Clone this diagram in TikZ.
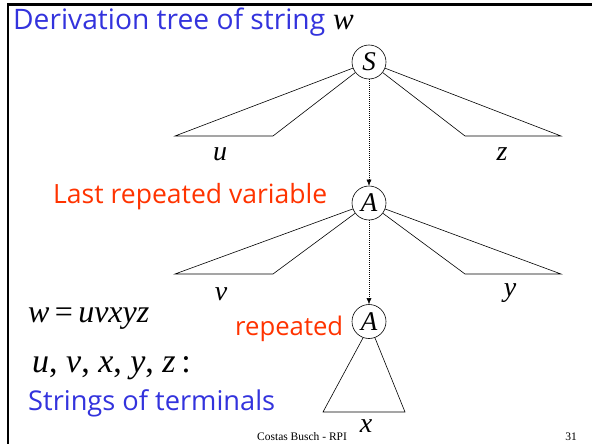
\documentclass[tikz,border=0pt]{standalone}
\usepackage{fontspec}
\setmainfont{Liberation Serif}
\newfontfamily\comicf{Open Sans}
\usetikzlibrary{arrows.meta}
\definecolor{titleblue}{RGB}{51,51,221}
\definecolor{accred}{RGB}{255,51,0}
\tikzset{
  treenode/.style={circle,draw,line width=0.6pt,minimum size=34pt,inner sep=0pt,font=\fontsize{27}{27}\selectfont\itshape},
  treeline/.style={line width=0.6pt,line join=miter},
  dotarrow/.style={line width=0.5pt,dash pattern=on 1pt off 1pt,-{Latex[length=6pt,width=5pt]}},
  leaflabel/.style={anchor=base,inner sep=0pt,font=\fontsize{28}{28}\selectfont\itshape},
  bluetext/.style={anchor=base west,inner sep=0pt,text=titleblue,font=\comicf},
  redtext/.style={anchor=base west,inner sep=0pt,text=accred,font=\comicf},
  footer/.style={inner sep=0pt,font=\fontsize{11.5}{11.5}\selectfont}
}
\begin{document}
\begin{tikzpicture}[x=1pt,y=-1pt]
\useasboundingbox (0,0) rectangle (592,444);
% frame
\draw[line width=2.5pt] (8,444) -- (8,4.5) -- (592,4.5);
% title
\node[bluetext] (title) at (13,30) {\resizebox{312pt}{!}{Derivation tree of string}};
\node[anchor=base west,inner sep=0pt,font=\fontsize{31}{31}\selectfont\itshape] (titlew) at (333,30) {w};
% nodes
\node[treenode] (S) at (369,62) {S};
\node[treenode] (A1) at (369,203) {A};
\node[treenode] (A2) at (369,321.5) {A};
% coordinates
\coordinate (SLo) at (175,136);
\coordinate (SLi) at (273,136);
\coordinate (SRi) at (465,136);
\coordinate (SRo) at (561,136);
\coordinate (ALo) at (175,274);
\coordinate (ALi) at (273,274);
\coordinate (ARi) at (465,274);
\coordinate (ARo) at (561,274);
\coordinate (TL) at (323,412);
\coordinate (TR) at (405,412);
% trapezoids
\draw[treeline] (S) -- (SLo) -- (SLi) -- (S);
\draw[treeline] (S) -- (SRo) -- (SRi) -- (S);
\draw[treeline] (A1) -- (ALo) -- (ALi) -- (A1);
\draw[treeline] (A1) -- (ARo) -- (ARi) -- (A1);
\draw[treeline] (A2.250) -- (TL) -- (TR) -- (A2.290);
% dotted arrows
\draw[dotarrow] (S) -- (A1);
\draw[dotarrow] (A1) -- (A2);
% leaf labels
\node[leaflabel] (lu) at (220,160) {u};
\node[leaflabel] (lz) at (502,160) {z};
\node[leaflabel] (lv) at (221,300) {v};
\node[leaflabel] (ly) at (510,296) {y};
\node[leaflabel] (lx) at (366,432) {x};
% annotations
\node[redtext] (lastrep) at (53,203) {\resizebox{274pt}{!}{Last repeated variable}};
\node[redtext] (rep) at (235,335) {\resizebox{108pt}{!}{repeated}};
\node[anchor=base west,inner sep=0pt,font=\fontsize{32}{32}\selectfont] (weq) at (28,322) {\textit{w}\,=\,\textit{uvxyz}};
\node[anchor=base west,inner sep=0pt,font=\fontsize{34}{34}\selectfont] (vars) at (32,372) {\textit{u}, \textit{v}, \textit{x}, \textit{y}, \textit{z}\,:};
\node[bluetext] (strings) at (28,410) {\resizebox{247pt}{!}{Strings of terminals}};
% footer
\node[footer,anchor=base west] (foot) at (257,440) {Costas Busch - RPI};
\node[footer,anchor=base east] (pnum) at (577,440) {31};
\end{tikzpicture}
\end{document}
